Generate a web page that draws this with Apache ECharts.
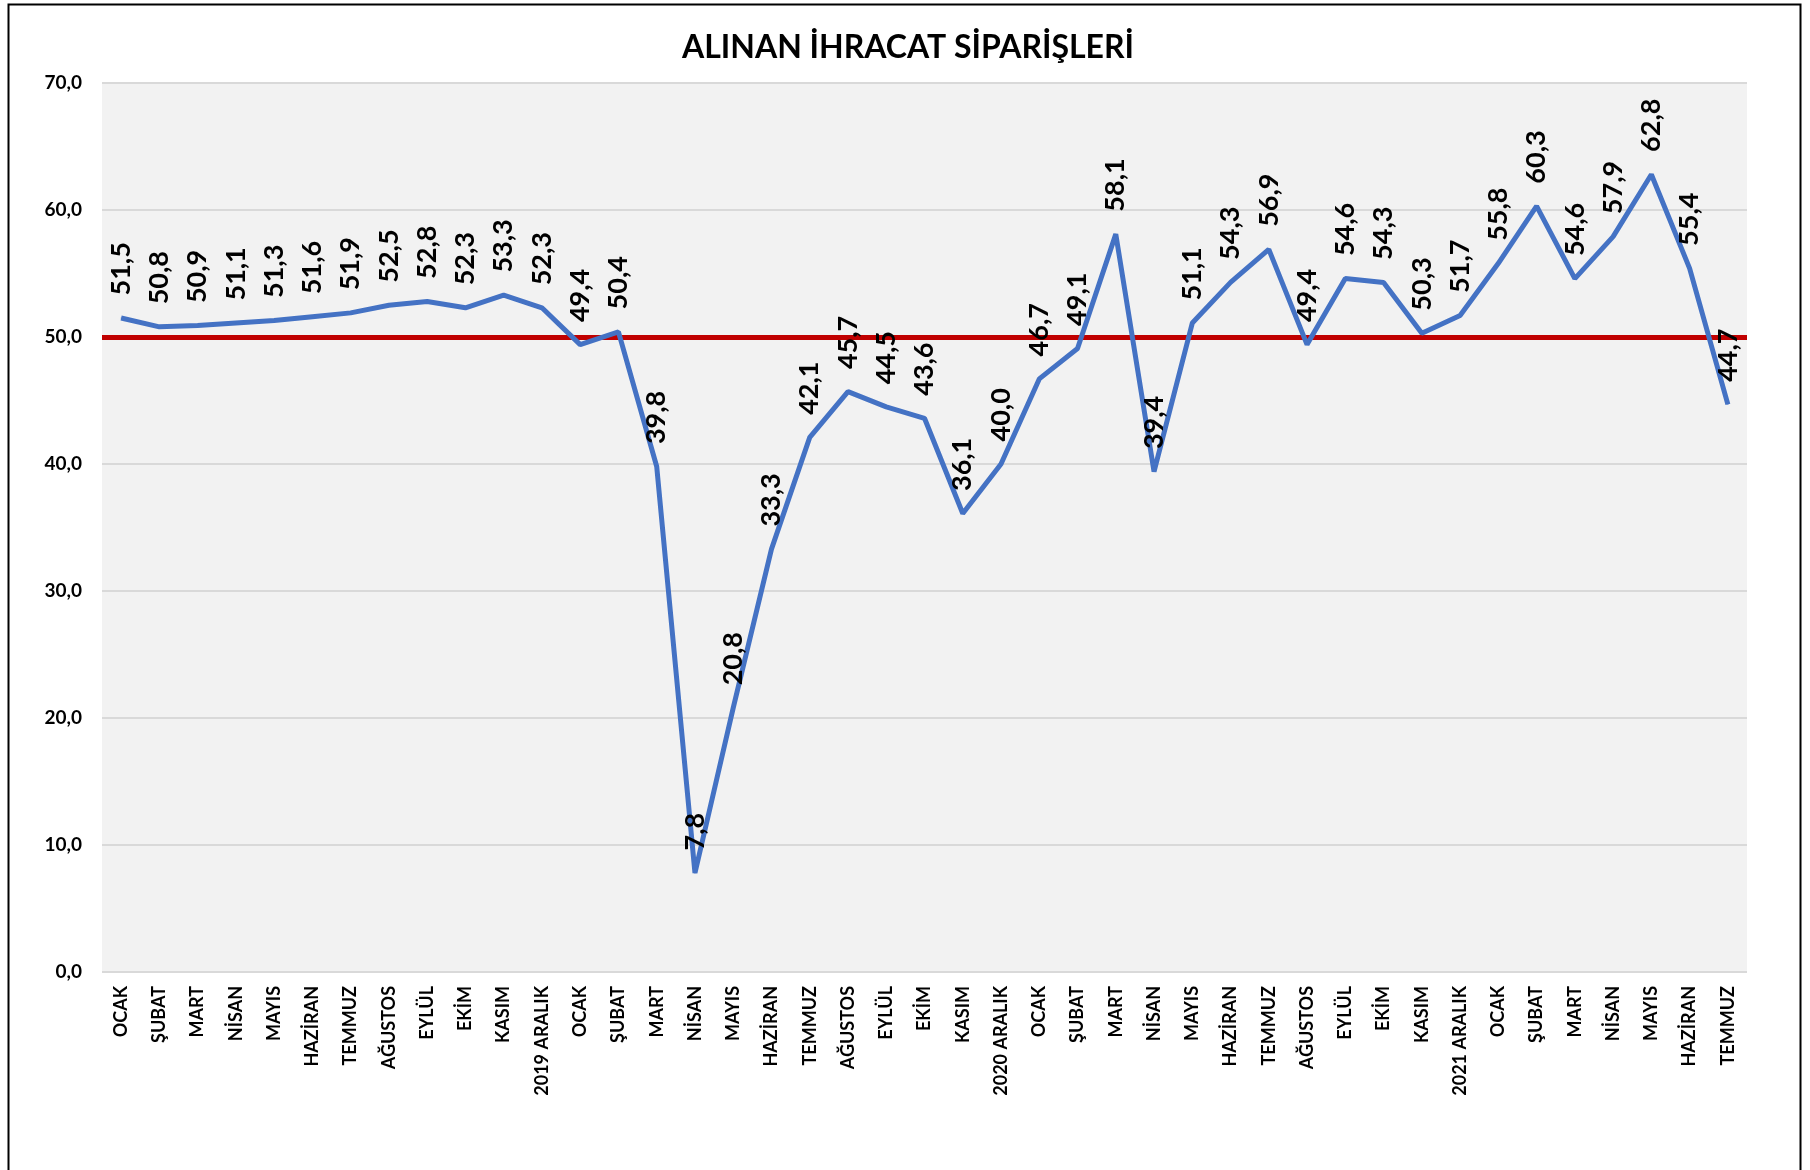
<!DOCTYPE html>
<html>
<head>
<meta charset="utf-8">
<script src="https://cdn.jsdelivr.net/npm/echarts@6/dist/echarts.min.js"></script>
<style>
html,body{margin:0;padding:0;background:#fff;}
#c{width:1810px;height:1170px;}
</style>
</head>
<body>
<div id="c"></div>
<script>
const title = 'ALINAN İHRACAT SİPARİŞLERİ';
const categories = [
  'OCAK','ŞUBAT','MART','NİSAN','MAYIS','HAZİRAN','TEMMUZ','AĞUSTOS','EYLÜL','EKİM','KASIM','2019 ARALIK',
  'OCAK','ŞUBAT','MART','NİSAN','MAYIS','HAZİRAN','TEMMUZ','AĞUSTOS','EYLÜL','EKİM','KASIM','2020 ARALIK',
  'OCAK','ŞUBAT','MART','NİSAN','MAYIS','HAZİRAN','TEMMUZ','AĞUSTOS','EYLÜL','EKİM','KASIM','2021 ARALIK',
  'OCAK','ŞUBAT','MART','NİSAN','MAYIS','HAZİRAN','TEMMUZ'
];
const values = [
  51.5, 50.8, 50.9, 51.1, 51.3, 51.6, 51.9, 52.5, 52.8, 52.3, 53.3, 52.3,
  49.4, 50.4, 39.8, 7.8, 20.8, 33.3, 42.1, 45.7, 44.5, 43.6, 36.1, 40.0,
  46.7, 49.1, 58.1, 39.4, 51.1, 54.3, 56.9, 49.4, 54.6, 54.3, 50.3, 51.7,
  55.8, 60.3, 54.6, 57.9, 62.8, 55.4, 44.7
];
const threshold = 50;
const yMin = 0, yMax = 70, yStep = 10;

const fmt = v => Number(v).toFixed(1).replace('.', ',');
const FONT = 'Lato';

const chart = echarts.init(document.getElementById('c'), null, {renderer: 'canvas'});
chart.setOption({
  backgroundColor: '#ffffff',
  animation: false,
  title: {
    text: title,
    left: 903, textAlign: 'center',
    top: 27,
    textStyle: {fontFamily: FONT, fontWeight: 'bold', fontSize: 32, color: '#000'}
  },
  graphic: [{
    type: 'rect', left: 6, top: 2, z: 100,
    shape: {x: 0, y: 0, width: 1792, height: 1190},
    style: {fill: 'none', stroke: '#000', lineWidth: 2}
  }],
  grid: {
    left: 102, right: 63, top: 83, bottom: 198,
    show: true, backgroundColor: '#F2F2F2', borderWidth: 0
  },
  xAxis: {
    type: 'category',
    data: categories,
    boundaryGap: true,
    axisLine: {show: false},
    axisTick: {show: false},
    axisLabel: {
      interval: 0, rotate: 90, margin: 14,
      fontFamily: FONT, fontWeight: 'bold', fontSize: 18, color: '#000'
    }
  },
  yAxis: {
    type: 'value',
    min: yMin, max: yMax, interval: yStep,
    axisLine: {show: false},
    axisTick: {show: false},
    splitLine: {show: true, lineStyle: {color: '#D9D9D9', width: 2}},
    axisLabel: {
      margin: 20, formatter: fmt,
      fontFamily: FONT, fontWeight: 'bold', fontSize: 19, color: '#000'
    }
  },
  series: [{
    type: 'line',
    data: values,
    showSymbol: true,
    showAllSymbol: true,
    symbol: 'circle',
    symbolSize: 1,
    lineStyle: {color: '#4472C4', width: 5},
    itemStyle: {color: '#4472C4'},
    z: 3,
    label: {
      show: true,
      position: 'top',
      distance: 22,
      rotate: 90,
      align: 'left',
      verticalAlign: 'middle',
      formatter: p => fmt(p.value),
      fontFamily: FONT, fontWeight: 'bold', fontSize: 27, color: '#000'
    },
    markLine: {
      silent: true,
      symbol: 'none',
      label: {show: false},
      lineStyle: {color: '#C00000', width: 5, type: 'solid'},
      data: [{yAxis: threshold}],
      z: 2
    }
  }]
});
</script>
</body>
</html>
